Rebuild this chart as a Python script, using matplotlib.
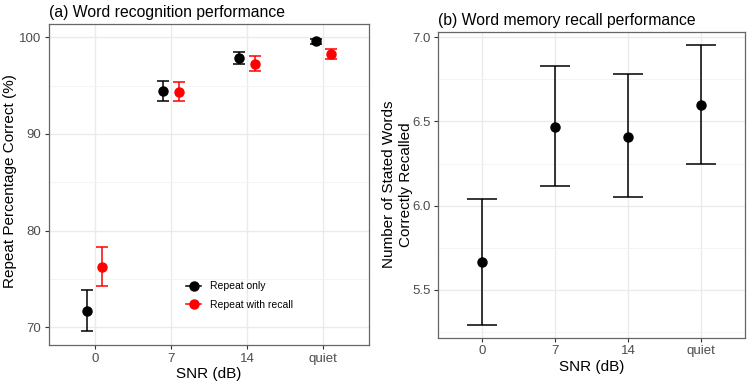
import matplotlib
matplotlib.use("Agg")
import matplotlib.pyplot as plt
from matplotlib.lines import Line2D
import numpy as np

snr_labels = ["0", "7", "14", "quiet"]

# Panel (a)
repeat_only_mean = [71.72, 94.48, 97.90, 99.59]
repeat_only_lo = [69.65, 93.41, 97.20, 99.34]
repeat_only_hi = [73.83, 95.52, 98.51, 99.83]
recall_mean = [76.24, 94.31, 97.24, 98.27]
recall_lo = [74.24, 93.38, 96.52, 97.76]
recall_hi = [78.27, 95.35, 98.07, 98.79]

# Panel (b)
words_mean = [5.666, 6.47, 6.41, 6.60]
words_lo = [5.292, 6.12, 6.05, 6.25]
words_hi = [6.04, 6.83, 6.78, 6.955]

plt.rcParams['font.family'] = ['Liberation Sans', 'DejaVu Sans']

fig = plt.figure(figsize=(7.5, 3.85), dpi=100)
ax1 = fig.add_axes([0.0653, 0.1039, 0.4267, 0.8338])
ax2 = fig.add_axes([0.5844, 0.1229, 0.4089, 0.7948])

def style(ax, majors, minors):
    ax.set_facecolor("white")
    for s in ax.spines.values():
        s.set_color("#666666")
        s.set_linewidth(0.9)
    ax.set_yticks(majors)
    ax.set_yticks(minors, minor=True)
    ax.set_xticks([1, 2, 3, 4])
    ax.set_xticklabels(snr_labels)
    ax.grid(True, which="major", color="#EBEBEB", linewidth=1.0, zorder=0)
    ax.grid(True, which="minor", axis="y", color="#F3F3F3", linewidth=0.6, zorder=0)
    ax.tick_params(which="major", direction="out", length=3, color="#333333",
                   labelcolor="#4D4D4D", labelsize=9.5, width=0.8, pad=2.5)
    ax.tick_params(which="minor", length=0)
    ax.set_axisbelow(True)
    ax.set_xlim(0.4, 4.6)

x = np.arange(1, 5)
off = 0.1

def errplot(ax, xs, mean, lo, hi, color, cap, ms=6.5):
    mean = np.array(mean); lo = np.array(lo); hi = np.array(hi)
    ax.errorbar(xs, mean, yerr=[mean - lo, hi - mean], fmt="o", color=color,
                ecolor=color, elinewidth=1.1, capsize=cap, capthick=1.1,
                markersize=ms, zorder=3)

errplot(ax1, x - off, repeat_only_mean, repeat_only_lo, repeat_only_hi, "black", 4.5)
errplot(ax1, x + off, recall_mean, recall_lo, recall_hi, "#FF0000", 4.5)
style(ax1, [70, 80, 90, 100], [75, 85, 95])
ax1.set_ylim(68.17, 101.38)
ax1.set_xlabel("SNR (dB)", fontsize=11, color="black", labelpad=2)
ax1.set_ylabel("Repeat Percentage Correct (%)", fontsize=11, color="black")
ax1.yaxis.set_label_coords(-0.10, 0.51)
ax1.set_title("(a) Word recognition performance", loc="left", fontsize=11.3, pad=5, x=0.0)
handles = [Line2D([], [], color="black", marker="o", markersize=6.5, linewidth=1.1),
           Line2D([], [], color="#FF0000", marker="o", markersize=6.5, linewidth=1.1)]
ax1.legend(handles, ["Repeat only", "Repeat with recall"], loc="upper left",
           bbox_to_anchor=(0.40, 0.228), frameon=False, fontsize=7.5,
           handlelength=1.4, labelspacing=0.85, handletextpad=0.9)

errplot(ax2, x, words_mean, words_lo, words_hi, "black", 10.5)
style(ax2, [5.5, 6.0, 6.5, 7.0], [5.25, 5.75, 6.25, 6.75])
ax2.set_ylim(5.217, 7.033)
ax2.set_yticklabels(["5.5", "6.0", "6.5", "7.0"])
ax2.set_xlabel("SNR (dB)", fontsize=11, color="black", labelpad=2)
ax2.set_ylabel("Number of Stated Words\nCorrectly Recalled", fontsize=11, color="black",
               linespacing=1.3)
ax2.yaxis.set_label_coords(-0.0825, 0.5)
ax2.set_title("(b) Word memory recall performance", loc="left", fontsize=11.3, pad=5, x=0.0)

fig.savefig("out.png", dpi=100)
